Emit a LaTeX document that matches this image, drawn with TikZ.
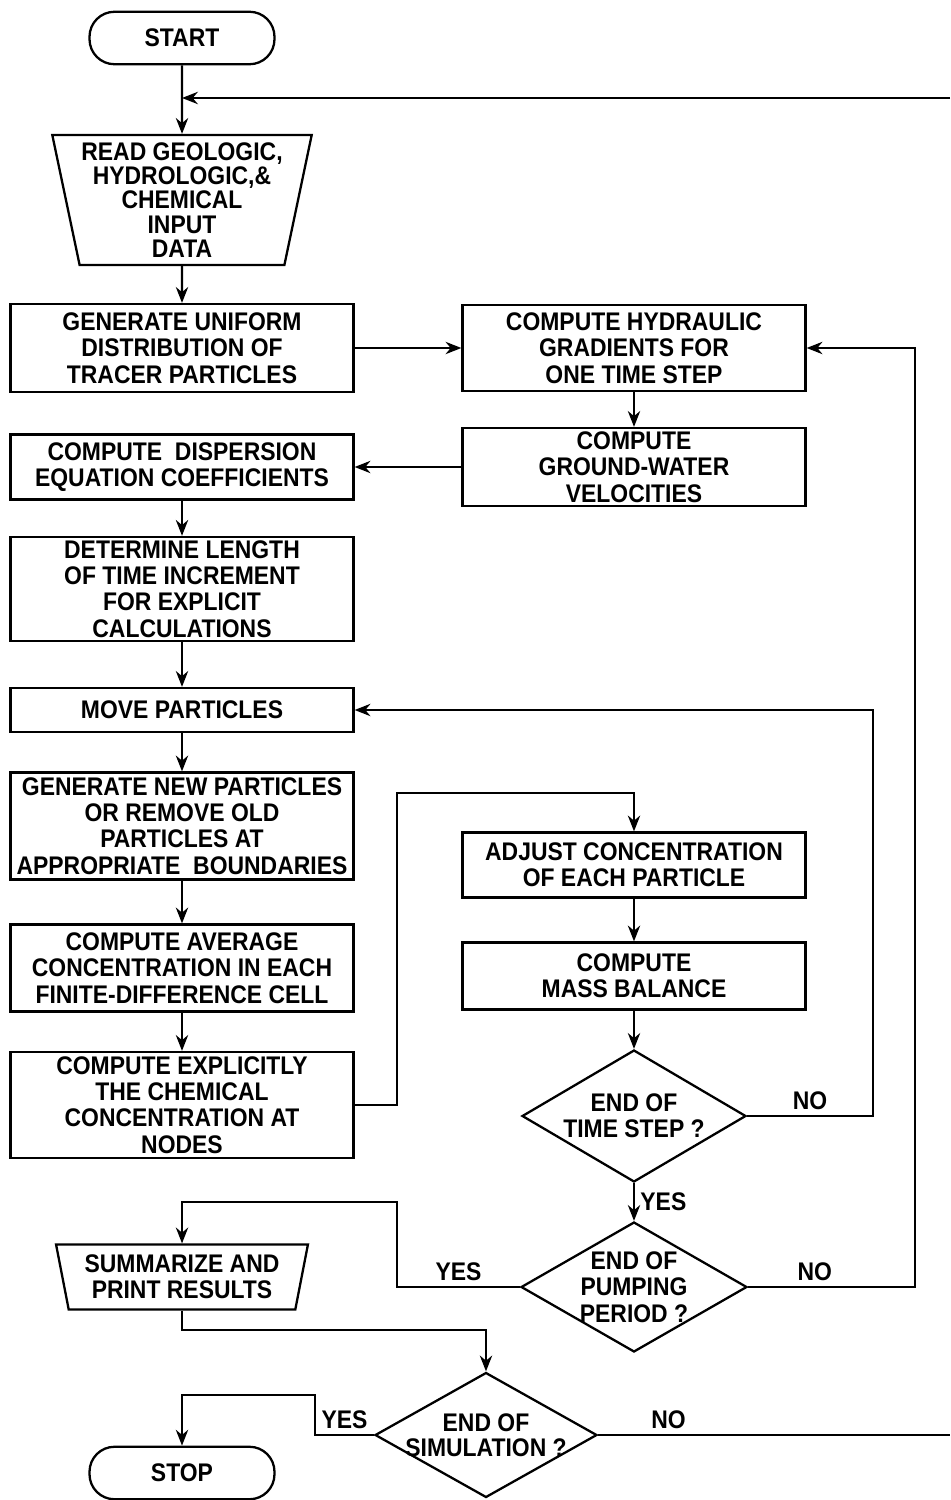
\documentclass[tikz,border=0pt]{standalone}
\usepackage{fontspec}
\setmainfont{Liberation Sans}[FakeStretch=0.9]
\usetikzlibrary{positioning, shapes.geometric, arrows.meta, calc}

\begin{document}
\begin{tikzpicture}[x=0.02cm, y=-0.02cm,
    every node/.style={font=\bfseries\fontsize{14.5}{15}\selectfont, align=center},
    box/.style={draw, line width=1.3pt, minimum width=6.86cm, inner sep=2pt},
    term/.style={draw, line width=1.3pt, rounded corners=0.5cm, minimum width=3.7cm, minimum height=1.05cm},
    io/.style={draw, line width=1.3pt, trapezium, shape border rotate=180, trapezium angle=77, trapezium stretches=true, inner sep=1pt},
    dec/.style={draw, line width=1.3pt, diamond, aspect=1.8, inner sep=-2pt},
    flow/.style={-{Stealth[length=9pt,width=7pt]}, line width=1.3pt},
    wire/.style={line width=1.3pt},
    lbl/.style={inner sep=3pt}]
  \useasboundingbox (0,0) rectangle (950,1500);

  % left column
  \node[term] (start) at (182,38) {START};
  \node[io, minimum width=5.14cm, minimum height=2.6cm] (read) at (182,200)
    {READ GEOLOGIC,\\[-1.2pt]HYDROLOGIC,\&\\[-1.2pt]CHEMICAL\\[-1.2pt]INPUT\\[-1.2pt]DATA};
  \node[box, minimum height=1.76cm] (gen) at (182,348) {GENERATE UNIFORM\\DISTRIBUTION OF\\TRACER PARTICLES};
  \node[box, minimum height=1.3cm] (disp) at (182,467) {COMPUTE\ \ DISPERSION\\EQUATION COEFFICIENTS};
  \node[box, minimum height=1.96cm] (det) at (182,589) {DETERMINE LENGTH\\OF TIME INCREMENT\\FOR EXPLICIT\\CALCULATIONS};
  \node[box, minimum height=0.88cm] (move) at (182,710) {MOVE PARTICLES};
  \node[box, minimum height=2.14cm] (newp) at (182,826) {GENERATE NEW PARTICLES\\OR REMOVE OLD\\PARTICLES AT\\APPROPRIATE\ \ BOUNDARIES};
  \node[box, minimum height=1.74cm] (avg) at (182,968) {COMPUTE AVERAGE\\CONCENTRATION IN EACH\\FINITE-DIFFERENCE CELL};
  \node[box, minimum height=2.12cm] (expl) at (182,1105) {COMPUTE EXPLICITLY\\THE CHEMICAL\\CONCENTRATION AT\\NODES};
  \node[io, minimum width=5.04cm, minimum height=1.3cm] (summ) at (182,1277) {SUMMARIZE AND\\PRINT RESULTS};
  \node[term] (stop) at (182,1473) {STOP};

  % right column
  \node[box, minimum height=1.72cm] (hyd) at (634,348) {COMPUTE HYDRAULIC\\GRADIENTS FOR\\ONE TIME STEP};
  \node[box, minimum height=1.56cm] (vel) at (634,467) {COMPUTE\\GROUND-WATER\\VELOCITIES};
  \node[box, minimum height=1.3cm] (adj) at (634,865) {ADJUST CONCENTRATION\\OF EACH PARTICLE};
  \node[box, minimum height=1.34cm] (mass) at (634,976) {COMPUTE\\MASS BALANCE};
  \node[dec, minimum width=4.48cm, minimum height=2.64cm] (ts) at (634,1116) {END OF\\TIME STEP ?};
  \node[dec, minimum width=4.52cm, minimum height=2.6cm] (pp) at (634,1287) {END OF\\PUMPING\\PERIOD ?};
  \node[dec, minimum width=4.44cm, minimum height=2.5cm, inner sep=-5pt] (sim) at (486,1435) {END OF\\[-1pt]SIMULATION ?};

  % loose ends at the page edge
  \coordinate (topin) at (950,98);
  \coordinate (simout) at (950,1435);
  \coordinate (sumjoin) at (486,1330);

  \draw[flow] (start) -- (read);
  \draw[flow] (topin) -- (topin -| read.north);
  \draw[flow] (read) -- (gen);
  \draw[flow] (gen) -- (hyd);
  \draw[flow] (hyd) -- (vel);
  \draw[flow] (vel) -- (disp);
  \draw[flow] (disp) -- (det);
  \draw[flow] (det) -- (move);
  \draw[flow] (move) -- (newp);
  \draw[flow] (newp) -- (avg);
  \draw[flow] (avg) -- (expl);
  \draw[flow] (expl.east) -| (397,793) -| (adj.north);
  \draw[flow] (adj) -- (mass);
  \draw[flow] (mass) -- (ts);
  \draw[flow] (ts.east) -- node[lbl, above] (tsno) {NO} (873,1116) |- (move.east);
  \draw[flow] (ts) -- node[lbl, right] (tsyes) {YES} (pp);
  \draw[flow] (pp.west) -- node[lbl, above] (ppyes) {YES} (397,1287) -- (397,1202) -| (summ.north);
  \draw[flow] (pp.east) -- node[lbl, above, pos=0.4] (ppno) {NO} (915,1287) |- (hyd.east);
  \draw[flow] (summ.south) |- (sumjoin) -- (sim.north);
  \draw[flow] (sim.west) -- node[lbl, above] (simyes) {YES} (315,1435) -- (315,1395) -| (stop.north);
  \draw[wire] (sim.east) -- node[lbl, above, pos=0.2] (simno) {NO} (simout);
\end{tikzpicture}
\end{document}
